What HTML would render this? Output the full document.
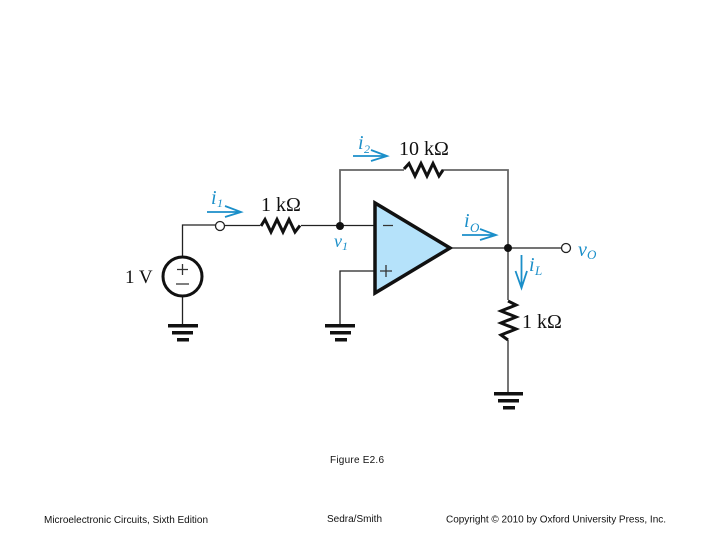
<!DOCTYPE html>
<html><head><meta charset="utf-8"><style>
html,body{margin:0;padding:0;background:#fff;width:720px;height:540px;overflow:hidden}
svg{display:block}
.s{font-family:"Liberation Serif",serif;fill:#111}
.b{font-family:"Liberation Serif",serif;fill:#1b8fc9;font-style:italic}
.c{font-family:"Liberation Sans",sans-serif;fill:#111;font-size:10px}
</style></head><body>
<svg width="720" height="540" viewBox="0 0 720 540" xmlns="http://www.w3.org/2000/svg">
<g fill="none" stroke-linejoin="miter">
<path d="M182.5 256V225H216M225 225.500H260M301 225.500H375M451 248H561M182.500 297V325M375 271H340V325" stroke="#222" stroke-width="1.300"/>
<path d="M340 226V170H404M442 170H508V248M508 248V300M508 340V393" stroke="#666" stroke-width="1.800"/>
<polygon points="375,203 375,293 450,248" fill="#b5e2fa" stroke="#111" stroke-width="3.500"/>
<circle cx="182.500" cy="276.500" r="19.500" fill="#fff" stroke="#111" stroke-width="3"/>
<path d="M261 226L265 219.500L271 232L277 219.500L283 232L289 219.500L295 232L300 225.500" stroke="#111" stroke-width="3"/>
<path d="M404 169L409 163.500L415 176L421 163.500L427 176L433 163.500L439 176L443 170" stroke="#111" stroke-width="3"/>
<path d="M508 301L516 305L501 311L516 317L501 323L516 329L501 335L508 340" stroke="#111" stroke-width="3"/>
<path d="M383 225.500H393M380 271H392M386 265V277M177 269.500H188M182.500 264V275M176 284H189" stroke="#333" stroke-width="1.300"/>
</g>
<circle cx="220" cy="226" r="4.500" fill="#fff" stroke="#222" stroke-width="1.300"/>
<circle cx="566" cy="248" r="4.500" fill="#fff" stroke="#222" stroke-width="1.300"/>
<circle cx="340" cy="226" r="4" fill="#111"/>
<circle cx="508" cy="248" r="4" fill="#111"/>
<g fill="#111">
<rect x="168" y="324" width="30" height="3.500"/><rect x="172" y="331" width="21" height="3.500"/><rect x="177" y="338" width="12" height="3.500"/>
<rect x="325" y="324" width="30" height="3.500"/><rect x="330" y="331" width="21" height="3.500"/><rect x="335" y="338" width="12" height="3.500"/>
<rect x="494" y="392" width="29" height="3.500"/><rect x="498" y="399" width="21" height="3.500"/><rect x="503" y="406" width="12" height="3.500"/>
</g>
<g fill="none" stroke="#1b8fc9" stroke-width="1.800">
<path d="M207 212H240M225 206L241 212L225 217"/>
<path d="M353 156H386M371 150L387 156L371 161"/>
<path d="M462 235H495M480 229L496 235L480 240"/>
<path d="M521.500 255V287M515.500 271L521.500 288L527 271"/>
</g>
<text class="s" x="125" y="283" font-size="19">1 V</text>
<text class="s" x="261" y="211" font-size="20">1 kΩ</text>
<text class="s" x="399" y="155" font-size="20">10 kΩ</text>
<text class="s" x="522" y="328" font-size="20">1 kΩ</text>
<text class="b" x="211" y="204" font-size="20">i</text><text class="b" x="217" y="207" font-size="12">1</text>
<text class="b" x="358" y="149" font-size="20">i</text><text class="b" x="364" y="153" font-size="12">2</text>
<text class="b" x="334" y="247" font-size="18">v</text><text class="b" x="342" y="250" font-size="12">1</text>
<text class="b" x="464" y="227" font-size="20">i</text><text class="b" x="470" y="232" font-size="13">O</text>
<text class="b" x="529" y="271" font-size="20">i</text><text class="b" x="535" y="275" font-size="13">L</text>
<text class="b" x="578" y="256" font-size="20">v</text><text class="b" x="587" y="259" font-size="13">O</text>
<text class="c" x="330" y="463" textLength="54" lengthAdjust="spacing">Figure E2.6</text>
<text class="c" x="44" y="523" textLength="164" lengthAdjust="spacing">Microelectronic Circuits, Sixth Edition</text>
<text class="c" x="327" y="522" textLength="55" lengthAdjust="spacing">Sedra/Smith</text>
<text class="c" x="446" y="522.500" textLength="220" lengthAdjust="spacing">Copyright © 2010 by Oxford University Press, Inc.</text>
</svg>
</body></html>
